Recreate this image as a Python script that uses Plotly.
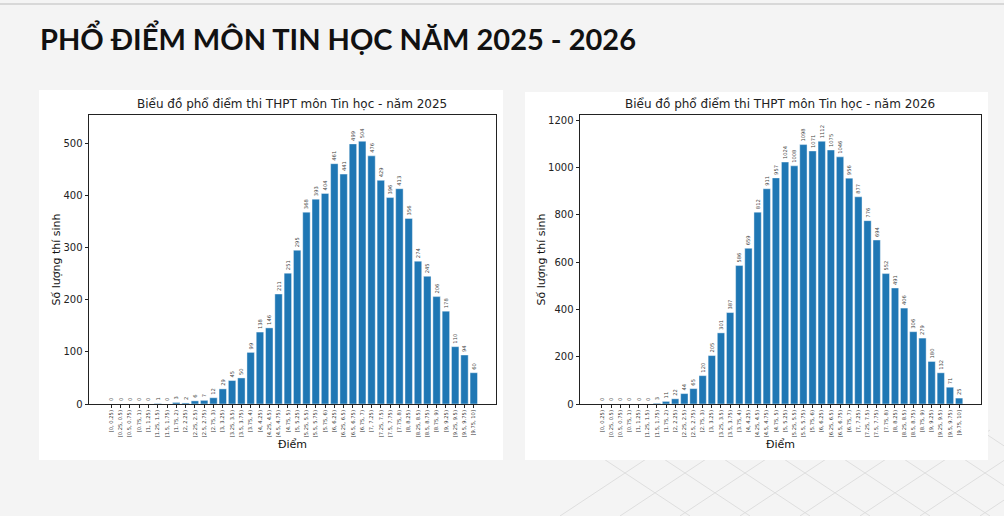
import plotly.graph_objects as go
from plotly.subplots import make_subplots

# score bins (40 bins of 0.25)
bins = ["[0, 0.25)", "[0.25, 0.5)", "[0.5, 0.75)", "[0.75, 1)",
        "[1, 1.25)", "[1.25, 1.5)", "[1.5, 1.75)", "[1.75, 2)",
        "[2, 2.25)", "[2.25, 2.5)", "[2.5, 2.75)", "[2.75, 3)",
        "[3, 3.25)", "[3.25, 3.5)", "[3.5, 3.75)", "[3.75, 4)",
        "[4, 4.25)", "[4.25, 4.5)", "[4.5, 4.75)", "[4.75, 5)",
        "[5, 5.25)", "[5.25, 5.5)", "[5.5, 5.75)", "[5.75, 6)",
        "[6, 6.25)", "[6.25, 6.5)", "[6.5, 6.75)", "[6.75, 7)",
        "[7, 7.25)", "[7.25, 7.5)", "[7.5, 7.75)", "[7.75, 8)",
        "[8, 8.25)", "[8.25, 8.5)", "[8.5, 8.75)", "[8.75, 9)",
        "[9, 9.25)", "[9.25, 9.5)", "[9.5, 9.75)", "[9.75, 10]"]

counts_2025 = [0, 0, 0, 0, 0, 1, 0, 3, 2, 6, 7, 12, 29, 45, 50, 99, 138, 146, 211, 251,
               295, 368, 393, 404, 461, 441, 499, 504, 476, 429, 396, 413, 356, 274, 245, 206,
               178, 110, 94, 60]
counts_2026 = [0, 0, 0, 0, 0, 0, 3, 11, 22, 44, 65, 120, 205, 301, 387, 586, 659, 812, 911, 957,
               1024, 1008, 1098, 1071, 1112, 1075, 1046, 956, 877, 776, 694, 552, 491, 406, 306, 279,
               180, 132, 71, 25]

main_title = "PHỔ ĐIỂM MÔN TIN HỌC NĂM 2025 - 2026"
chart_titles = ["Biểu đồ phổ điểm thi THPT môn Tin học - năm 2025",
                "Biểu đồ phổ điểm thi THPT môn Tin học - năm 2026"]

W, H = 1004, 516
BLUE = "#1f77b4"
MPL_FONT = "DejaVu Sans"


def px(x):
    return x / W


def py(y):
    return 1 - y / H


fig = make_subplots(rows=1, cols=2)

for i, counts in enumerate([counts_2025, counts_2026]):
    fig.add_trace(go.Bar(
        x=bins, y=counts, width=0.8,
        marker=dict(color=BLUE, line=dict(color="rgba(255,255,255,0.7)", width=0.6)),
        text=[str(v) for v in counts], textposition="outside", textangle=-90,
        textfont=dict(size=5.2, color="#444", family=MPL_FONT),
        constraintext="none", cliponaxis=False, showlegend=False,
        hoverinfo="x+y"), row=1, col=i + 1)

# axes placement (matplotlib style boxes)
x_domains = [[px(89), px(496)], [px(580), px(981)]]
y_tops = [max(counts_2025) * 1.1, max(counts_2026) * 1.1]
dticks = [100, 200]
for i in range(2):
    n = "" if i == 0 else "2"
    fig.layout["xaxis" + n].update(
        domain=x_domains[i], range=[-2.39, 41.39], showline=True, mirror=True,
        linecolor="#222", linewidth=1, ticks="outside", ticklen=3, tickwidth=0.8,
        tickcolor="#222", tickangle=-90, tickfont=dict(size=5.2, color="#333", family=MPL_FONT),
        showgrid=False, zeroline=False, automargin=False,
        title=dict(text="Điểm", font=dict(size=11, color="#111", family=MPL_FONT), standoff=4))
    fig.layout["yaxis" + n].update(
        domain=[py(404), py(115)], range=[0, y_tops[i]], dtick=dticks[i], showline=True,
        mirror=True, linecolor="#222", linewidth=1, ticks="outside", ticklen=3.5,
        tickwidth=0.8, tickcolor="#222", tickfont=dict(size=10, color="#222", family=MPL_FONT),
        showgrid=False, zeroline=False, automargin=False,
        title=dict(text="Số lượng thí sinh", font=dict(size=11, color="#111", family=MPL_FONT),
                   standoff=0))

shapes = []
# faint diagonal background pattern at bottom right
for k in range(0, 9):
    x0 = 560 + k * 60
    shapes.append(dict(type="line", xref="paper", yref="paper", layer="below",
                       x0=px(x0), y0=py(516), x1=px(x0 + 130), y1=py(430),
                       line=dict(color="#dedede", width=1)))
    shapes.append(dict(type="line", xref="paper", yref="paper", layer="below",
                       x0=px(x0), y0=py(430), x1=px(x0 + 130), y1=py(516),
                       line=dict(color="#dedede", width=1)))
# white image panels
shapes.append(dict(type="rect", xref="paper", yref="paper", layer="below",
                   x0=px(39), y0=py(460), x1=px(503), y1=py(90),
                   fillcolor="white", line=dict(width=0)))
shapes.append(dict(type="rect", xref="paper", yref="paper", layer="below",
                   x0=px(525), y0=py(460), x1=px(988), y1=py(92),
                   fillcolor="white", line=dict(width=0)))
# thin top rule
shapes.append(dict(type="line", xref="paper", yref="paper",
                   x0=0, y0=py(4), x1=1, y1=py(4), line=dict(color="#cfcfcf", width=1.5)))

annotations = [
    dict(text="<b>" + main_title + "</b>", xref="paper", yref="paper",
         x=px(38), y=py(38), xanchor="left", yanchor="middle", showarrow=False,
         font=dict(size=29, color="#111", family="Lato")),
    dict(text=chart_titles[0], xref="paper", yref="paper", x=px(292), y=py(104),
         xanchor="center", yanchor="middle", showarrow=False,
         font=dict(size=12, color="#222", family=MPL_FONT)),
    dict(text=chart_titles[1], xref="paper", yref="paper", x=px(780), y=py(104),
         xanchor="center", yanchor="middle", showarrow=False,
         font=dict(size=12, color="#222", family=MPL_FONT)),
]

fig.update_layout(
    width=W, height=H, margin=dict(l=0, r=0, t=0, b=0),
    paper_bgcolor="#f4f4f4", plot_bgcolor="rgba(0,0,0,0)",
    shapes=shapes, annotations=annotations, bargap=0.2,
)

fig.write_html("out.html", config={"displayModeBar": False},
               post_script="document.body.style.margin='0';"
                           "document.body.style.background='#f4f4f4';")
